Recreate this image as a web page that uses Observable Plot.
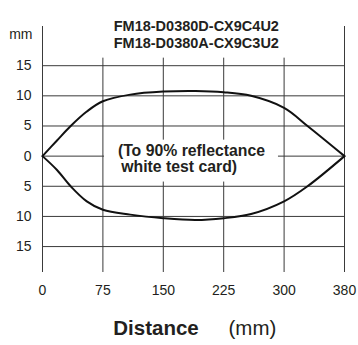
<!DOCTYPE html>
<html>
<head>
<meta charset="utf-8">
<script src="https://cdn.jsdelivr.net/npm/d3@7"></script>
<script src="https://cdn.jsdelivr.net/npm/@observablehq/plot@0.6"></script>
<style>
  html, body { margin: 0; padding: 0; background: white; }
</style>
</head>
<body>
<div id="chart"></div>
<script>
// Tick values
const xTicks = [0, 75, 150, 225, 300, 380];
const yTicks = [15, 10, 5, 0, -5, -10, -15];

// Detection field boundary (distance mm, half-width mm)
const upperDist = [0, 18, 35, 55, 75, 109, 150, 190, 225, 259, 300, 331, 380];
const upperVal  = [0, 2.6, 5, 7.4, 9.1, 10.2, 10.7, 10.8, 10.6, 10.0, 8.0, 5.0, 0];
const lowerDist = [0, 18, 35, 55, 75, 109, 150, 190, 225, 259, 300, 331, 380];
const lowerVal  = [0, 2.3, 5, 7.5, 8.9, 9.7, 10.3, 10.6, 10.3, 9.6, 7.5, 5.0, 0];

// Texts
const titleLines = ["FM18-D0380D-CX9C4U2", "FM18-D0380A-CX9C3U2"];
const noteLines = ["(To 90% reflectance", "white test card)"];
const xLabelBold = "Distance";
const xLabelUnit = "(mm)";
const yUnit = "mm";

const upper = upperDist.map((d, i) => ({x: d, y: upperVal[i]}));
const lower = lowerDist.map((d, i) => ({x: d, y: -lowerVal[i]}));

const yMin = -19.3, yMax = 21.5;
const font = "'Liberation Sans', Arial, Helvetica, sans-serif";
const ink = "#231f20";
const gridColor = "#3a3a3a";

const chart = Plot.plot({
  width: 358,
  height: 345,
  marginLeft: 42,
  marginRight: 14,
  marginTop: 26,
  marginBottom: 73,
  style: {fontFamily: font, fontSize: "14px", color: ink, background: "white"},
  x: {type: "linear", domain: xTicks},
  y: {type: "linear", domain: [yMin, yMax]},
  marks: [
    // horizontal grid
    Plot.ruleY(yTicks, {x1: xTicks[0], x2: xTicks[xTicks.length - 1], stroke: gridColor, strokeWidth: 1}),
    // outer verticals
    Plot.ruleX([xTicks[0], xTicks[xTicks.length - 1]], {y1: yMin, y2: yMax, stroke: gridColor, strokeWidth: 1}),
    // inner verticals
    Plot.ruleX(xTicks.slice(1, -1), {y1: yMin, y2: 16.25, stroke: gridColor, strokeWidth: 1}),
    // white box behind the note
    Plot.rect([{x1: 77, x2: 293, y1: -4.3, y2: 2.65}], {x1: "x1", x2: "x2", y1: "y1", y2: "y2", fill: "white"}),
    // curves
    Plot.line(upper, {x: "x", y: "y", stroke: "#111", strokeWidth: 2, curve: "catmull-rom"}),
    Plot.line(lower, {x: "x", y: "y", stroke: "#111", strokeWidth: 2, curve: "catmull-rom"}),
    // axes
    Plot.axisY(yTicks, {tickSize: 0, tickPadding: 11, tickFormat: d => Math.abs(d), fill: ink, fontSize: 14}),
    Plot.axisX(xTicks, {tickSize: 0, tickPadding: 13, tickFormat: d => String(d), fill: ink, fontSize: 14}),
    // y unit
    Plot.text([yUnit], {frameAnchor: "left", y: 20.1, dx: -10, textAnchor: "end", fill: ink, fontSize: 14}),
    // title
    Plot.text([titleLines[0]], {x: 191, y: 21.5, fontWeight: "bold", fontSize: 14.5, fill: ink}),
    Plot.text([titleLines[1]], {x: 191, y: 18.75, fontWeight: "bold", fontSize: 14.5, fill: ink}),
    // note
    Plot.text([noteLines[0]], {x: 93.6, y: 0.9, textAnchor: "start", fontWeight: "bold", fontSize: 15.8, fill: ink}),
    Plot.text([noteLines[1]], {x: 97.8, y: -1.75, textAnchor: "start", fontWeight: "bold", fontSize: 15.8, fill: ink}),
    // x label
    Plot.text([xLabelBold], {x: 141, frameAnchor: "bottom", dy: 62, fontWeight: "bold", fontSize: 20.5, fill: ink}),
    Plot.text([xLabelUnit], {x: 260.7, frameAnchor: "bottom", dy: 62, fontSize: 20.5, fill: ink})
  ]
});
document.getElementById("chart").appendChild(chart);
</script>
</body>
</html>
